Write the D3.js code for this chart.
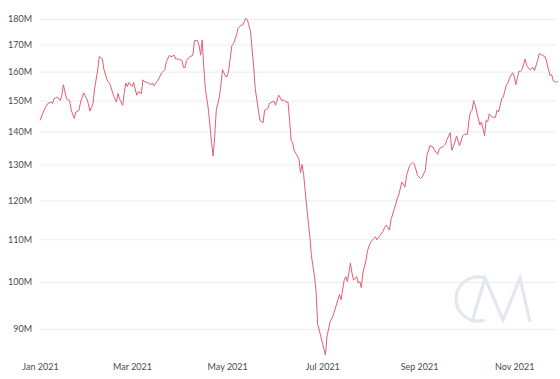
<!DOCTYPE html>
<html><head><meta charset="utf-8">
<script src="https://cdn.jsdelivr.net/npm/d3@7"></script>
<style>
html,body{margin:0;padding:0;background:#fff;}
svg{display:block;font-family:Lato,"Open Sans",sans-serif;}
</style></head><body>
<svg id="chart" width="560" height="379"></svg>
<script>
// Days elapsed since 2021-01-01
const dayOffsets = [0,3,5,7,8,9,11,13,14,15,17,19,20,22,23,25,26,28,30,31,32,34,35,37,38,40,41,43,45,47,49,50,51,53,54,55,56,57,59,60,62,63,65,66,67,69,71,72,73,75,76,78,80,81,83,84,86,87,89,91,92,93,94,96,98,99,101,102,103,104,105,106,108,109,110,111,112,113,115,116,117,119,120,121,123,124,126,127,129,130,132,133,135,137,138,140,141,143,144,146,147,150,151,153,154,155,156,158,159,160,161,162,163,165,166,167,168,169,171,173,174,176,177,178,179,181,183,184,186,188,189,191,192,193,195,196,197,198,199,200,201,203,204,205,206,207,209,210,212,214,215,216,218,220,221,222,223,224,225,227,229,230,232,234,235,237,239,240,242,244,245,247,248,250,252,253,255,256,258,260,261,263,264,266,267,269,271,272,274,275,276,277,278,279,281,282,283,285,286,287,288,290,292,293,294,295,296,297,299,300,301,303,304,305,307,308,309,311,312,314,316,317,319,320,322,324,326,327,328,329,331,332];
// Value in millions
const values = [143.5,147.3,149,149.5,149,150.6,151.2,150,151.8,155.4,150.6,150,146.8,144.1,146.2,146.8,149.5,152.6,150.6,149,146.5,149,154,160.7,165.5,164.6,160.7,157.1,155.4,151.8,149.5,152.4,150.6,148.4,152.4,156,154.8,156.2,154.8,156.2,151.8,153,152.4,157.1,156.5,156.2,155.4,156,155,156.5,157.4,159.6,160.7,163.6,166,165.4,166,164.6,164.6,164,161.5,161.5,164,165.4,166,171.5,171.5,169.6,166,171.8,161.5,154,146.8,141.5,136.5,132.5,138.4,146.8,151.2,155.4,160.7,158.3,158.3,160.7,169.6,170.3,173.7,176.3,177.6,177.6,180.3,179.6,174.9,161.5,154,146.8,143.5,142.7,146.8,147.3,149,149.8,148.4,151.8,151,150,150.2,149.5,149.5,143.5,137.2,136.5,134,132.5,131.5,127.6,130,127.2,118.2,110.6,106,101.2,97.8,90.9,89.8,87.3,84.9,88.6,91.5,92.8,93.9,96.1,97.2,96.1,100.4,101.2,100.1,102,104.3,102,100.4,101.2,99.7,100.1,98.7,102,105,107.3,109.3,110.2,110.6,109.9,111,112,113,113.5,112.9,112.3,114.9,117.5,120.4,121.5,125,123.6,126.9,129.7,130.6,130.2,126.9,126,126.4,128.3,132.5,135.6,135.2,134.2,133,134.7,135.2,136.1,137.6,139.6,134.2,136.6,138.6,135.6,138.6,139.1,139.1,143.5,146.2,146.8,150,148.4,144.1,142,143,138.6,143.5,143,145.6,144.5,144.5,146.8,146.2,148.4,150.6,151.2,155.4,156,157.8,159.6,158.4,155.4,160.1,160.1,160.7,164.6,162.2,160.7,161.5,160.4,164,166.6,166,165.4,160.7,158.6,159,156.8,156.2,156.5];
const yTicks = [90,100,110,120,130,140,150,160,170,180];

const start = new Date(2021,0,1);
const data = dayOffsets.map((d,i)=>({date:d3.timeDay.offset(start,d), v:values[i]}));

const svg = d3.select("#chart");
const left = 40, right = 556;
const x = d3.scaleTime().domain([start, new Date(2021,11,1)]).range([40, 561]);
const y = d3.scaleLog().domain([90,180]).range([329,19]);

// y grid + labels
const ya = svg.append("g").attr("transform",`translate(${left},0)`)
  .call(d3.axisLeft(y).tickValues(yTicks).tickFormat(d=>d+"M").tickSize(-(right-left)).tickPadding(8));
ya.select(".domain").remove();
ya.selectAll(".tick line").attr("stroke","#ececec").attr("stroke-width",1);
ya.selectAll(".tick text").attr("fill","#4a4a4a").attr("font-size",9).attr("font-family","Lato,sans-serif");

// watermark
const wm = svg.append("g").attr("fill","none").attr("stroke","#e3e7ef").attr("stroke-width",3.2);
wm.append("path").attr("d", d3.arc()({innerRadius:22, outerRadius:22, startAngle:Math.PI*0.9, endAngle:Math.PI*2.1}))
  .attr("transform","translate(478,299)");
wm.append("path").attr("d","M472,322 L485,278 L503,320 L520,278 L530,322");

// x axis
const xa = svg.append("g").attr("transform","translate(0,360)")
  .call(d3.axisBottom(x).ticks(d3.timeMonth.every(2)).tickFormat(d3.timeFormat("%b %Y")).tickSize(0).tickPadding(4));
xa.select(".domain").remove();
xa.selectAll(".tick text").attr("fill","#4a4a4a").attr("font-size",9).attr("font-family","Lato,sans-serif");
xa.selectAll(".tick").filter(d=>d>new Date(2021,10,15)).remove();

// line
svg.append("path").datum(data)
  .attr("fill","none").attr("stroke","#e25e74").attr("stroke-width",1).attr("stroke-linejoin","round")
  .attr("d", d3.line().x(d=>x(d.date)).y(d=>y(d.v)));
</script>
</body></html>
